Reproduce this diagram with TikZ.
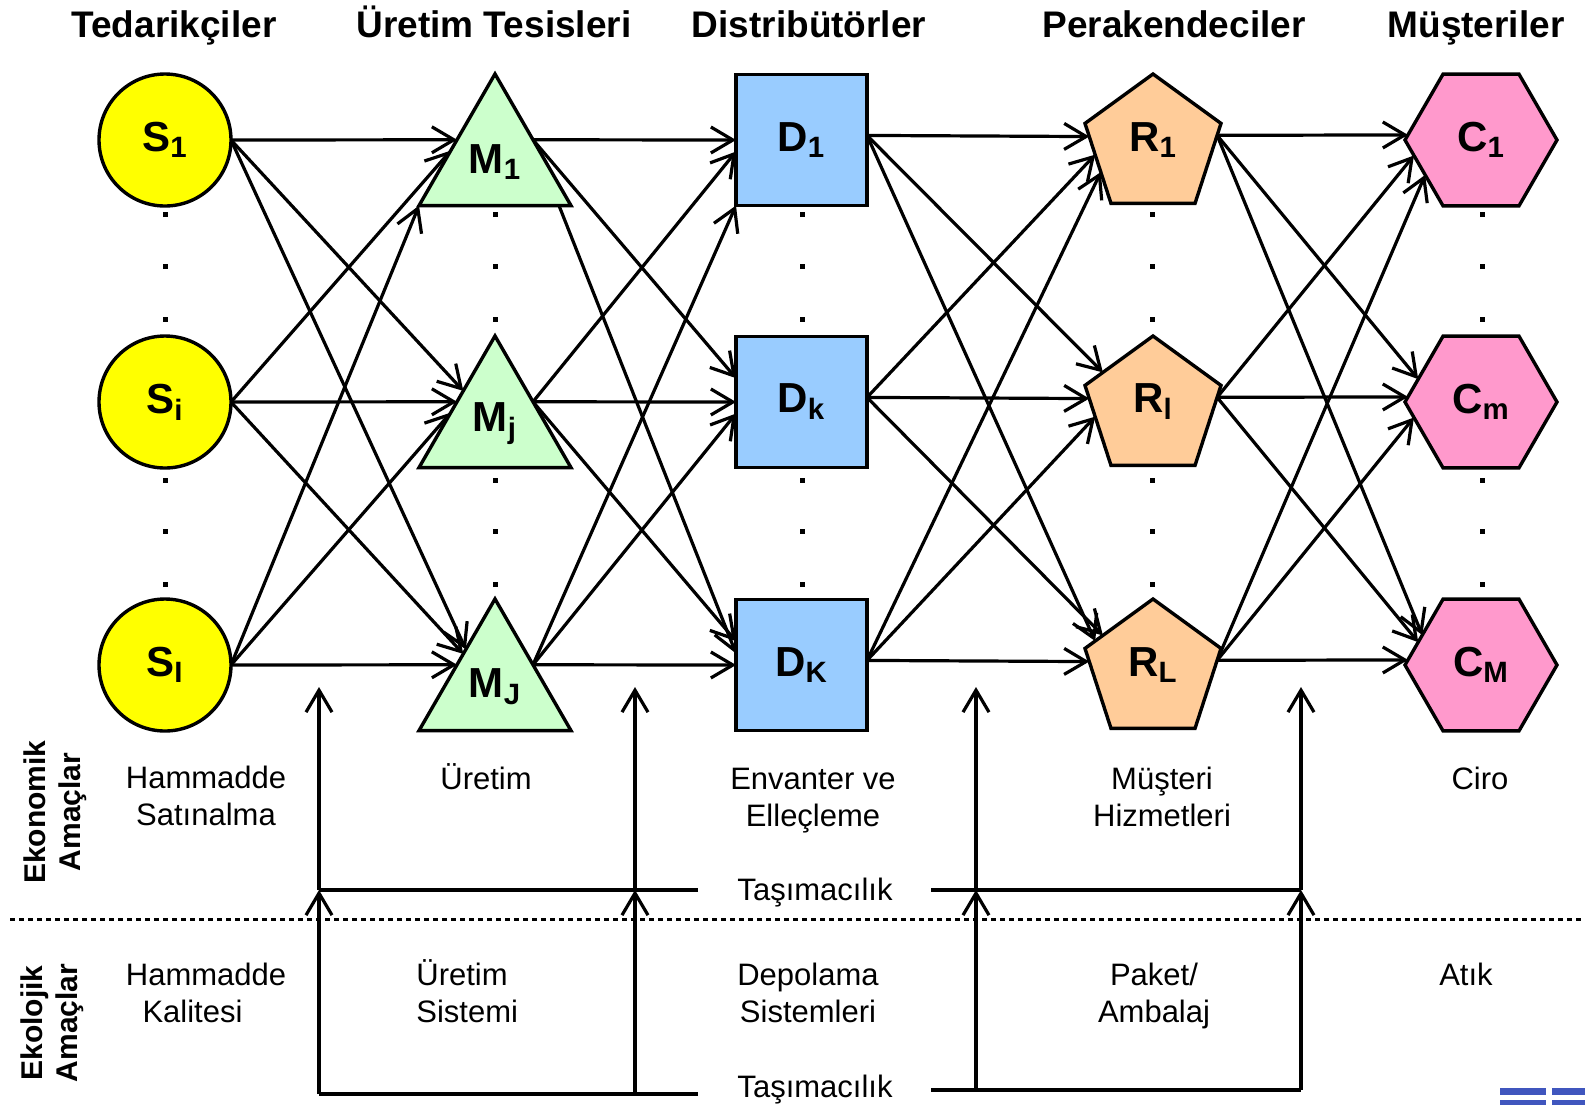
\documentclass[tikz,border=0pt]{standalone}
\usepackage{fontspec}
\setmainfont{Liberation Sans}
\usetikzlibrary{shapes.geometric,arrows.meta,backgrounds}
\definecolor{cS}{HTML}{FFFF00}
\definecolor{cM}{HTML}{CCFFCC}
\definecolor{cD}{HTML}{99CCFF}
\definecolor{cR}{HTML}{FFCC99}
\definecolor{cC}{HTML}{FF99CC}
\definecolor{logo}{RGB}{64,86,190}
\tikzset{
 shp/.style={draw=black, line width=1.7pt, inner sep=0pt, outer sep=0pt, font=\bfseries\fontsize{21}{24}\selectfont},
 snode/.style={shp, circle, fill=cS, minimum size=66pt},
 mnode/.style={shp, regular polygon, regular polygon sides=3, fill=cM, minimum size=87.75pt},
 dnode/.style={shp, rectangle, fill=cD, minimum size=65.5pt},
 rnode/.style={shp, regular polygon, regular polygon sides=5, fill=cR, minimum size=71.5pt},
 cnode/.style={shp, regular polygon, regular polygon sides=6, fill=cC, minimum size=76pt},
 conn/.style={line width=1.6pt, -{Straight Barb[length=11pt,width=13pt]}},
 plainline/.style={line width=1.6pt},
 dotline/.style={line width=1.5pt, dash pattern=on 2.5pt off 2pt},
 title/.style={font=\bfseries\fontsize{18.5}{22}\selectfont, inner sep=0pt, anchor=base},
 body/.style={font=\fontsize{15.5}{18.5}\selectfont, align=center, inner sep=0pt},
 side/.style={font=\bfseries\fontsize{15}{17.75}\selectfont, align=center, rotate=90, inner sep=0pt},
 rlab/.style={font=\bfseries\fontsize{21}{24}\selectfont, yshift=2.75pt, inner sep=0pt},
}
\begin{document}
\begin{tikzpicture}[x=0.5pt,y=-0.5pt]
\useasboundingbox (0,0) rectangle (1585,1105);

% titles
\node[title] (t1) at (174,37) {Tedarikçiler};
\node[title] (t2) at (494,37) {Üretim Tesisleri};
\node[title] (t3) at (809,37) {Distribütörler};
\node[title] (t4) at (1174,37) {Perakendeciler};
\node[title] (t5) at (1476,37) {Müşteriler};

% suppliers
\node[snode] (S1) at (165,140) {S\textsubscript{1}};
\node[snode] (S2) at (165,402) {S\textsubscript{i}};
\node[snode] (S3) at (165,665) {S\textsubscript{I}};
% plants
\node[mnode] (M1) at (495,161.7) {M\textsubscript{1}};
\node[mnode] (M2) at (495,423.7) {M\textsubscript{j}};
\node[mnode] (M3) at (495,686.7) {M\textsubscript{J}};
% distributors
\node[dnode] (D1) at (801.5,140) {D\textsubscript{1}};
\node[dnode] (D2) at (801.5,402) {D\textsubscript{k}};
\node[dnode] (D3) at (801.5,665) {D\textsubscript{K}};
% retailers
\node[rnode, label={[rlab]center:R\textsubscript{1}}] (R1) at (1153,145.5) {};
\node[rnode, label={[rlab]center:R\textsubscript{l}}] (R2) at (1153,407.5) {};
\node[rnode, label={[rlab]center:R\textsubscript{L}}] (R3) at (1153,670.5) {};
% customers
\node[cnode] (C1) at (1481,140) {C\textsubscript{1}};
\node[cnode] (C2) at (1481,402) {C\textsubscript{m}};
\node[cnode] (C3) at (1481,665) {C\textsubscript{M}};

% dots
\foreach \x in {165,495,802,1152,1482}{
  \foreach \y in {214,266,319,480,531,584}{
    \fill (\x-2.5,\y-2.5) rectangle (\x+2.5,\y+2.5);
  }
}

\begin{pgfonlayer}{background}
\fill[white] (0,0) rectangle (1585,1105);
\foreach \s in {1,2,3}{
  \foreach \t in {1,2,3}{
    \pgfmathtruncatemacro\ix{\s-\t+2}
    \pgfmathtruncatemacro\am{{128,134,150,166,210}[\ix]}
    \pgfmathtruncatemacro\ad{{170,160,180,190,225}[\ix]}
    \pgfmathtruncatemacro\ar{{153,145,172,189,207}[\ix]}
    \pgfmathtruncatemacro\ac{{153,160,176,193,212}[\ix]}
    \draw[conn] (S\s.east) -- (M\t.\am);
    \draw[conn] (M\s.30) -- (D\t.\ad);
    \draw[conn] (D\s.4) -- (R\t.\ar);
    \draw[conn] (R\s.9) -- (C\t.\ac);
  }
}
\end{pgfonlayer}

% lower section texts
\node[side] (ek) at (55,812) {Ekonomik\\Amaçlar};
\node[side] (ec) at (52,1023) {Ekolojik\\Amaçlar};

\node[body] (e1) at (206,796) {Hammadde\\Satınalma};
\node[body] (e2) at (486,777) {Üretim};
\node[body] (e3) at (813,801) {Envanter ve\\Elleçleme};
\node[body] (e4) at (1162,797) {Müşteri\\Hizmetleri};
\node[body] (e5) at (1480,778) {Ciro};

\node[body] (g1) at (206,993) {Hammadde\\Kalitesi\hspace*{13.5pt}};
\node[body, align=left, anchor=west] (g2) at (416,991) {Üretim\\Sistemi};
\node[body] (g3) at (808,993) {Depolama\\Sistemleri};
\node[body] (g4) at (1154,996) {Paket/\\Ambalaj};
\node[body] (g5) at (1466,974) {Atık};

\node[body] (T1) at (815,893) {Taşımacılık};
\node[body] (T2) at (815,1090) {Taşımacılık};

% dotted separator
\coordinate (dl) at (10,919);
\coordinate (dr) at (1585,919);
\draw[dotline] (dl) -- (dr);

% transport brackets
\coordinate (uL) at (698,890);
\coordinate (uR) at (931,890);
\coordinate (lL) at (698,1094);
\coordinate (lR) at (931,1090);
\coordinate (u1) at (319,890);
\coordinate (u2) at (635,890);
\coordinate (u3) at (976,890);
\coordinate (u4) at (1301,890);
\coordinate (l1) at (319,1094);
\coordinate (l2) at (635,1094);
\coordinate (l3) at (976,1090);
\coordinate (l4) at (1301,1090);
\coordinate (a1) at (319,687);
\coordinate (a2) at (635,687);
\coordinate (a3) at (976,687);
\coordinate (a4) at (1301,687);

\draw[plainline] (uL) -- (u1);
\draw[plainline] (uR) -- (u4);
\draw[plainline] (lL) -- (l1);
\draw[plainline] (lR) -- (l4);
\draw[conn] (u1) -- (a1);
\draw[conn] (u2) -- (a2);
\draw[conn] (u3) -- (a3);
\draw[conn] (u4) -- (a4);
\draw[conn] (l1) -- (u1);
\draw[conn] (l2) -- (u2);
\draw[conn] (l3) -- (u3);
\draw[conn] (l4) -- (u4);

% logo fragment
\fill[logo] (1500,1088) rectangle (1546,1095);
\fill[logo] (1552,1088) rectangle (1585,1095);
\fill[logo] (1500,1100) rectangle (1546,1105);
\fill[logo] (1552,1100) rectangle (1585,1105);
\end{tikzpicture}
\end{document}
